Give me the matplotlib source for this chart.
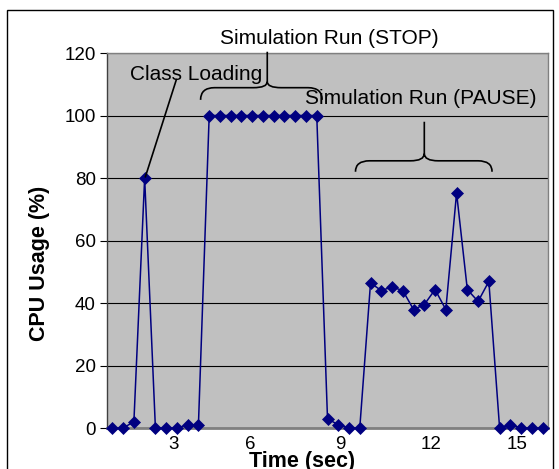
import matplotlib
matplotlib.use("Agg")
import matplotlib.pyplot as plt
from matplotlib.path import Path
from matplotlib.patches import PathPatch, Rectangle

plt.rcParams['font.family'] = ['Liberation Sans', 'DejaVu Sans']

# ---- data ----
cpu_usage = [0, 0, 2, 80, 0, 0, 0, 1, 1,
             100, 100, 100, 100, 100, 100, 100, 100, 100, 100, 100,
             3, 1, 0, 0,
             46.4, 44, 45.1, 44, 37.9, 39.5, 44.3, 37.9, 75.2, 44.3, 40.5, 46.9,
             0, 1, 0, 0, 0]
sample_idx = list(range(1, len(cpu_usage) + 1))
x_tick_labels = ["3", "6", "9", "12", "15"]
x_tick_pos = [6.65, 13.84, 22.2, 30.6, 38.65]
y_ticks = [0, 20, 40, 60, 80, 100, 120]

W, H = 559, 469
fig = plt.figure(figsize=(W / 100, H / 100), dpi=100)
fig.patch.set_facecolor('white')

# outer chart border
fig.patches.append(Rectangle((7 / W, -0.01), (553 - 7) / W, (H - 10) / H + 0.01,
                             transform=fig.transFigure, fill=False,
                             edgecolor='black', linewidth=1.0))

L, R, T, B = 107, 548, 53, 428
ax = fig.add_axes([L / W, (H - B) / H, (R - L) / W, (B - T) / H])
ax.set_facecolor('#C0C0C0')

ax.set_xlim(0.5, len(cpu_usage) + 0.5)
ax.set_ylim(0, 120)
ax.set_yticks(y_ticks)
ax.set_xticks(x_tick_pos)
ax.set_xticklabels(x_tick_labels)
ax.grid(axis='y', color='black', linewidth=0.8)
ax.set_axisbelow(True)

for s in ['top', 'right']:
    ax.spines[s].set_color('#808080')
    ax.spines[s].set_linewidth(1.0)
ax.spines['bottom'].set_color('#808080')
ax.spines['bottom'].set_linewidth(2.0)
ax.spines['left'].set_color('#404040')
ax.spines['left'].set_linewidth(1.0)

ax.tick_params(axis='y', length=5, width=0.8, color='black', labelsize=13.5, pad=3)
ax.tick_params(axis='x', length=0, labelsize=13.5, pad=6)

ax.plot(sample_idx, cpu_usage, color='#000080', linewidth=1.1,
        marker='D', markersize=6, markerfacecolor='#000080',
        markeredgecolor='#000080', markeredgewidth=0.5, clip_on=False, zorder=3)

# axis titles
fig.text(40 / W, (H - 263) / H, "CPU Usage (%)", rotation=90, fontsize=15.5,
         fontweight='bold', ha='center', va='center')
fig.text(302 / W, (H - 461) / H, "Time (sec)", fontsize=15.5,
         fontweight='bold', ha='center', va='center')


def brace(x0, x1, xm, ye, yh, yc, ytop, r):
    verts = [(x0, ye), (x0, yh), (x0 + r, yh),
             (xm - r, yh), (xm, yh), (xm, yc),
             (xm, yh), (xm + r, yh),
             (x1 - r, yh), (x1, yh), (x1, ye),
             (xm, yc), (xm, ytop)]
    codes = [Path.MOVETO, Path.CURVE3, Path.CURVE3,
             Path.LINETO, Path.CURVE3, Path.CURVE3,
             Path.CURVE3, Path.CURVE3,
             Path.LINETO, Path.CURVE3, Path.CURVE3,
             Path.MOVETO, Path.LINETO]
    ax.add_patch(PathPatch(Path(verts, codes), fill=False, edgecolor='black',
                           linewidth=1.2, clip_on=False, zorder=4))


# annotations
ax.text(8.77, 113, "Class Loading", fontsize=15, ha='center', va='center', zorder=5)
ax.plot([6.95, 4.07], [111.5, 80.4], color='black', linewidth=1.2, zorder=4)

ax.text(21.2, 124.5, "Simulation Run (STOP)", fontsize=15, ha='center', va='center',
        clip_on=False)
brace(9.2, 20.5, 15.4, 105, 108.9, 110.8, 120.4, 1.3)

ax.text(29.65, 105.6, "Simulation Run (PAUSE)", fontsize=15, ha='center', va='center',
        zorder=5)
brace(23.6, 36.3, 30.0, 82, 85.5, 87.8, 98, 1.3)

fig.savefig("out.png", dpi=100)
